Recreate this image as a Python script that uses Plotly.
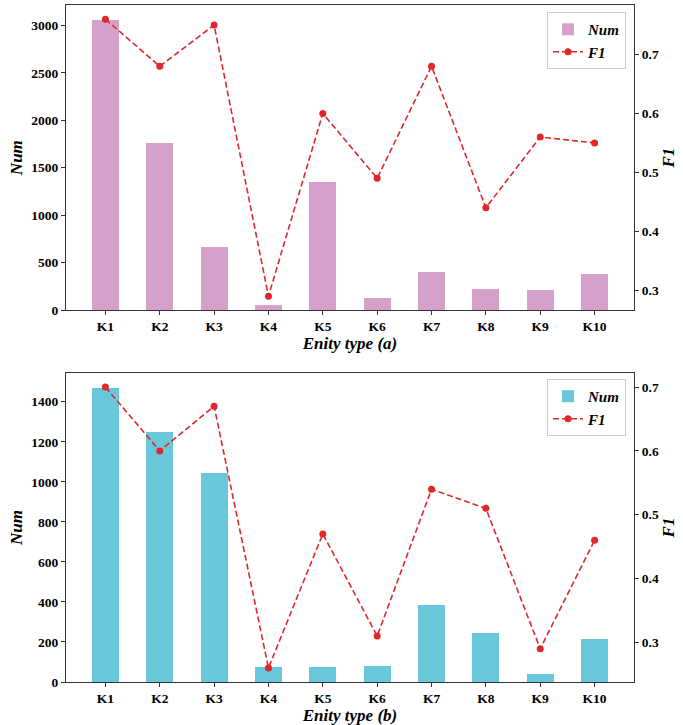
import plotly.graph_objects as go

categories = ["K1", "K2", "K3", "K4", "K5", "K6", "K7", "K8", "K9", "K10"]
num_a = [3060, 1760, 660, 50, 1350, 125, 400, 220, 210, 380]
f1_a = [0.76, 0.68, 0.75, 0.29, 0.60, 0.49, 0.68, 0.44, 0.56, 0.55]
num_b = [1470, 1250, 1045, 75, 75, 78, 385, 245, 42, 215]
f1_b = [0.70, 0.60, 0.67, 0.26, 0.47, 0.31, 0.54, 0.51, 0.29, 0.46]
xlabel_a = "Enity type (a)"
xlabel_b = "Enity type (b)"
left_ticks_a = [0, 500, 1000, 1500, 2000, 2500, 3000]
left_ticks_b = [0, 200, 400, 600, 800, 1000, 1200, 1400]
right_ticks = [0.3, 0.4, 0.5, 0.6, 0.7]

FONT = "Liberation Serif"
bar_a_color = "#d5a1cb"
bar_b_color = "#68c8da"
line_color = "#e0282a"

W, H = 683, 725
xdom = [66 / W, 634 / W]
ydom_a = [1 - 310 / H, 1 - 5.3 / H]
ydom_b = [1 - 682 / H, 1 - 373 / H]

def pad_range(vals, lo=None):
    mn, mx = min(vals), max(vals)
    if lo is not None:
        mn = lo
    m = (mx - mn) * 0.05
    return [mn if lo is not None else mn - m, mx + m]

fig = go.Figure()
fig.add_trace(go.Bar(x=categories, y=num_a, width=0.5, marker=dict(color=bar_a_color, line=dict(width=0)),
                     name="Num", xaxis="x", yaxis="y", legend="legend"))
fig.add_trace(go.Scatter(x=categories, y=f1_a, mode="lines+markers", name="F1",
                         line=dict(color=line_color, width=1.6, dash="6px,3px"),
                         marker=dict(color=line_color, size=7), xaxis="x", yaxis="y2", legend="legend"))
fig.add_trace(go.Bar(x=categories, y=num_b, width=0.5, marker=dict(color=bar_b_color, line=dict(width=0)),
                     name="Num", xaxis="x2", yaxis="y3", legend="legend2"))
fig.add_trace(go.Scatter(x=categories, y=f1_b, mode="lines+markers", name="F1",
                         line=dict(color=line_color, width=1.6, dash="6px,3px"),
                         marker=dict(color=line_color, size=7), xaxis="x2", yaxis="y4", legend="legend2"))

tickfont = dict(family=FONT, size=13.5, color="black", weight="bold")
titlefont = dict(family=FONT, size=17, color="black", weight="bold", style="italic")
common_axis = dict(showline=True, linecolor="#333333", linewidth=1.1, ticks="outside", ticklen=4,
                   tickcolor="#333333", tickfont=tickfont, showgrid=False, zeroline=False, automargin=False)

xr = [-0.725, 9.725]
legend_font = dict(family=FONT, size=15, color="black", weight="bold", style="italic")
fig.update_layout(
    width=W, height=H, margin=dict(l=0, r=0, t=0, b=0),
    paper_bgcolor="white", plot_bgcolor="white", bargap=0,
    xaxis=dict(domain=xdom, anchor="y", type="category", range=xr, mirror=True,
               title=dict(text=xlabel_a, font=titlefont, standoff=3), **common_axis),
    yaxis=dict(domain=ydom_a, anchor="x", range=pad_range(num_a, lo=0), tickvals=left_ticks_a,
               title=dict(text="Num", font=titlefont, standoff=4), **common_axis),
    yaxis2=dict(overlaying="y", anchor="x", side="right", range=pad_range(f1_a), tickvals=right_ticks,
                tickformat=".1f", title=dict(text="F1", font=titlefont, standoff=4), **common_axis),
    xaxis2=dict(domain=xdom, anchor="y3", type="category", range=xr, mirror=True,
                title=dict(text=xlabel_b, font=titlefont, standoff=3), **common_axis),
    yaxis3=dict(domain=ydom_b, anchor="x2", range=pad_range(num_b, lo=0), tickvals=left_ticks_b,
                title=dict(text="Num", font=titlefont, standoff=4), **common_axis),
    yaxis4=dict(overlaying="y3", anchor="x2", side="right", range=pad_range(f1_b), tickvals=right_ticks,
                tickformat=".1f", title=dict(text="F1", font=titlefont, standoff=4), **common_axis),
    legend=dict(x=547 / W, y=1 - 12 / H, xanchor="left", yanchor="top", bgcolor="white",
                bordercolor="#cccccc", borderwidth=1, tracegroupgap=0, font=legend_font),
    legend2=dict(x=547 / W, y=1 - 379 / H, xanchor="left", yanchor="top", bgcolor="white",
                 bordercolor="#cccccc", borderwidth=1, tracegroupgap=0, font=legend_font),
    showlegend=True,
)

fig.write_html("out.html")
